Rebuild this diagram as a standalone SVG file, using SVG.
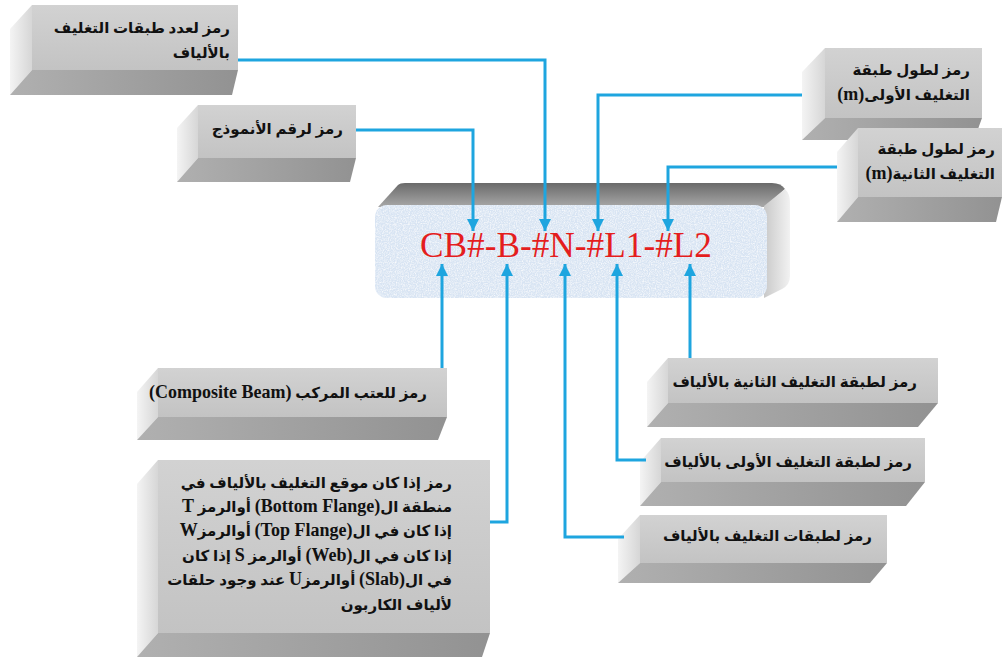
<svg xmlns="http://www.w3.org/2000/svg" width="1006" height="657" viewBox="0 0 1006 657">
<defs>
<linearGradient id="gFront" x1="0" y1="0" x2="0" y2="1"><stop offset="0" stop-color="#d2d2d2"/><stop offset="1" stop-color="#c3c3c3"/></linearGradient>
<linearGradient id="gLeft" x1="0" y1="0" x2="1" y2="0"><stop offset="0" stop-color="#f4f4f4"/><stop offset="1" stop-color="#d6d6d6"/></linearGradient>
<linearGradient id="gBottom" x1="0" y1="0" x2="1" y2="0"><stop offset="0" stop-color="#b0b0b0"/><stop offset="1" stop-color="#929292"/></linearGradient>
<linearGradient id="gTop" x1="0" y1="0" x2="0" y2="1"><stop offset="0" stop-color="#6a6a6a"/><stop offset="1" stop-color="#a8a8a8"/></linearGradient>
<linearGradient id="gRight" x1="0" y1="0" x2="1" y2="0"><stop offset="0" stop-color="#c9c9c9"/><stop offset="1" stop-color="#f2f2f2"/></linearGradient>
<filter id="noise" x="0" y="0" width="100%" height="100%">
<feTurbulence type="fractalNoise" baseFrequency="0.85" numOctaves="3" seed="4" result="n"/>
<feColorMatrix in="n" type="matrix" values="0 0 0 0 1  0 0 0 0 1  0 0 0 0 1  0 0 0 1.6 -0.6" result="w"/>
<feComposite in="w" in2="SourceGraphic" operator="in" result="wc"/>
<feMerge><feMergeNode in="SourceGraphic"/><feMergeNode in="wc"/></feMerge>
</filter>
<marker id="arr" viewBox="0 0 10 10" refX="10" refY="5" markerWidth="4" markerHeight="4" orient="auto" markerUnits="strokeWidth">
<path d="M0,0 L10,5 L0,10 Z" fill="#1ea5df"/>
</marker>
</defs>
<style>
.front{fill:url(#gFront)}
.left{fill:url(#gLeft)}
.bottom{fill:url(#gBottom)}
.lbl{font-family:"Liberation Serif","DejaVu Sans",serif;font-weight:bold;font-size:15px;fill:#111}
.lat{font-size:18px}
.conn{fill:none;stroke:#1ea5df;stroke-width:3}
.code{font-family:"Liberation Serif","Times New Roman",serif;font-size:35px;fill:#e41e1e}
</style>

<g id="node-count">
<polygon class="left" points="32,5 10,29 10,95 32,70"/>
<polygon class="bottom" points="32,70 238,70 232,95 10,95"/>
<rect class="front" x="32" y="5" width="206" height="65"/>
<text class="lbl" direction="rtl" text-anchor="start" x="230" y="33">رمز لعدد طبقات التغليف</text>
<text class="lbl" direction="rtl" text-anchor="start" x="230" y="58">بالألياف</text>
</g>

<g id="node-model">
<polygon class="left" points="198,105 177,128 177,182 198,158"/>
<polygon class="bottom" points="198,158 356,158 350,182 177,182"/>
<rect class="front" x="198" y="105" width="158" height="53"/>
<text class="lbl" direction="rtl" text-anchor="start" x="343" y="134">رمز لرقم الأنموذج</text>
</g>

<g id="node-len1">
<polygon class="left" points="825,48 802,72 802,140 825,118"/>
<polygon class="bottom" points="825,118 982,118 974,140 802,140"/>
<rect class="front" x="825" y="48" width="157" height="70"/>
<text class="lbl" direction="rtl" text-anchor="start" x="970" y="75">رمز لطول طبقة</text>
<text class="lbl" direction="rtl" text-anchor="start" x="970" y="100">التغليف الأولى<tspan class="lat">(m)</tspan></text>
</g>

<g id="node-len2">
<polygon class="left" points="858,128 837,152 837,222 858,197"/>
<polygon class="bottom" points="858,197 1002,197 996,222 837,222"/>
<rect class="front" x="858" y="128" width="144" height="69"/>
<text class="lbl" direction="rtl" text-anchor="start" x="995" y="154">رمز لطول طبقة</text>
<text class="lbl" direction="rtl" text-anchor="start" x="995" y="179">التغليف الثانية<tspan class="lat">(m)</tspan></text>
</g>

<g id="node-code">
<path d="M378,207 L398,185 Q400,183 405,183 L772,183 Q781,183 785,189 L765,207 Z" fill="url(#gTop)"/>
<path d="M764,206 L785,189 Q790,194 790,202 L790,276 Q790,285 782,289 L764,298 Z" fill="url(#gRight)"/>
<rect x="375" y="205" width="392" height="93" rx="12" fill="#d8e4f3" filter="url(#noise)"/>
<text class="code" x="420" y="257" textLength="292" lengthAdjust="spacingAndGlyphs">CB#-B-#N-#L1-#L2</text>
</g>

<g id="node-composite">
<polygon class="left" points="158,368 137,392 137,440 158,417"/>
<polygon class="bottom" points="158,417 447,417 438,440 137,440"/>
<rect class="front" x="158" y="368" width="289" height="49"/>
<text class="lbl" direction="rtl" text-anchor="start" x="427" y="398">رمز للعتب المركب <tspan class="lat">(Composite Beam)</tspan></text>
</g>

<g id="node-location">
<polygon class="left" points="158,460 137,484 137,657 158,633"/>
<polygon class="bottom" points="158,633 490,633 482,657 137,657"/>
<rect class="front" x="158" y="460" width="332" height="173"/>
<text class="lbl" direction="rtl" text-anchor="start" x="452" y="488">رمز إذا كان موقع التغليف بالألياف في</text>
<text class="lbl" direction="rtl" text-anchor="start" x="452" y="512">منطقة ال<tspan class="lat">(Bottom Flange)</tspan> أوالرمز <tspan class="lat">T</tspan></text>
<text class="lbl" direction="rtl" text-anchor="start" x="452" y="536">إذا كان في ال<tspan class="lat">(Top Flange)</tspan> أوالرمز<tspan class="lat">W</tspan></text>
<text class="lbl" direction="rtl" text-anchor="start" x="452" y="561">إذا كان في ال<tspan class="lat">(Web)</tspan> أوالرمز <tspan class="lat">S</tspan> إذا كان</text>
<text class="lbl" direction="rtl" text-anchor="start" x="452" y="585">في ال<tspan class="lat">(Slab)</tspan> أوالرمز<tspan class="lat">U</tspan> عند وجود حلقات</text>
<text class="lbl" direction="rtl" text-anchor="start" x="452" y="610">لألياف الكاربون</text>
</g>

<g id="node-layer2">
<polygon class="left" points="668,358 647,382 647,427 668,403"/>
<polygon class="bottom" points="668,403 938,403 918,427 647,427"/>
<rect class="front" x="668" y="358" width="270" height="45"/>
<text class="lbl" direction="rtl" text-anchor="start" x="917" y="387">رمز لطبقة التغليف الثانية بالألياف</text>
</g>

<g id="node-layer1">
<polygon class="left" points="661,438 640,462 640,506 661,482"/>
<polygon class="bottom" points="661,482 925,482 906,506 640,506"/>
<rect class="front" x="661" y="438" width="264" height="44"/>
<text class="lbl" direction="rtl" text-anchor="start" x="912" y="467">رمز لطبقة التغليف الأولى بالألياف</text>
</g>

<g id="node-layers">
<polygon class="left" points="640,515 618,539 618,583 640,563"/>
<polygon class="bottom" points="640,563 887,563 870,583 618,583"/>
<rect class="front" x="640" y="515" width="247" height="48"/>
<text class="lbl" direction="rtl" text-anchor="start" x="872" y="541">رمز لطبقات التغليف بالألياف</text>
</g>

<g id="connectors">
<polyline class="conn" points="238,60 545,60 545,231" marker-end="url(#arr)"/>
<polyline class="conn" points="356,130 473,130 473,231" marker-end="url(#arr)"/>
<polyline class="conn" points="802,95 598,95 598,231" marker-end="url(#arr)"/>
<polyline class="conn" points="837,167 668,167 668,231" marker-end="url(#arr)"/>
<polyline class="conn" points="442,368 442,264" marker-end="url(#arr)"/>
<polyline class="conn" points="490,522 507,522 507,264" marker-end="url(#arr)"/>
<polyline class="conn" points="624,537 565,537 565,264" marker-end="url(#arr)"/>
<polyline class="conn" points="646,460 617,460 617,264" marker-end="url(#arr)"/>
<polyline class="conn" points="690,358 690,264" marker-end="url(#arr)"/>
</g>
</svg>
